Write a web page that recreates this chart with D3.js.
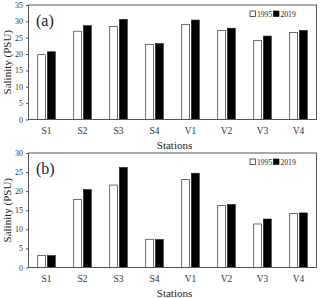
<!DOCTYPE html>
<html><head><meta charset="utf-8">
<script src="https://cdn.jsdelivr.net/npm/d3@7"></script>
<style>body{margin:0;background:#fff}svg{display:block}</style>
</head><body><svg id="c" width="320" height="298" font-family="'Liberation Serif', 'Times New Roman', serif"></svg>
<script>
const stations = ["S1","S2","S3","S4","V1","V2","V3","V4"];
const years = ["1995","2019"];
const panelA1995 = [19.8,27.0,28.4,23.0,29.1,27.2,24.2,26.6];
const panelA2019 = [20.7,28.7,30.6,23.2,30.4,27.9,25.5,27.2];
const panelB1995 = [3.1,17.8,21.6,7.4,23.1,16.2,11.4,14.1];
const panelB2019 = [3.1,20.4,26.2,7.3,24.7,16.5,12.7,14.3];
const panelATicks = [0,5,10,15,20,25,30,35];
const panelBTicks = [0,5,10,15,20,25,30];

const FONT = "'Liberation Serif', 'Times New Roman', serif";
const svg = d3.select("#c");
const colors = {"1995":"#fff","2019":"#000"};

function panel(label, v1, v2, ticks, ymax, top, bottom) {
  const left = 28.5, right = 316.5;
  const x = d3.scaleBand().domain(stations).range([left, right]);
  const xs = d3.scaleBand().domain(years).range([0, x.bandwidth()]).paddingInner(0.2).paddingOuter(0.95);
  const y = d3.scaleLinear().domain([0, ymax]).range([bottom, top]);
  const g = svg.append("g");
  const data = stations.map((s,i)=>({s, vals:[{k:"1995",v:v1[i]},{k:"2019",v:v2[i]}]}));
  const grp = g.selectAll("g.st").data(data).join("g").attr("transform", d=>`translate(${x(d.s)},0)`);
  grp.selectAll("rect").data(d=>d.vals).join("rect")
    .attr("x", d=>xs(d.k)).attr("width", xs.bandwidth())
    .attr("y", d=>y(d.v)).attr("height", d=>y(0)-y(d.v))
    .attr("fill", d=>colors[d.k]).attr("stroke","#111").attr("stroke-width",0.6);
  g.append("rect").attr("x",left).attr("y",top).attr("width",right-left).attr("height",bottom-top)
    .attr("fill","none").attr("stroke","#555").attr("stroke-width",1);
  const ya = d3.axisLeft(y).tickValues(ticks).tickSize(2.5).tickPadding(3);
  const yg = g.append("g").attr("transform",`translate(${left},0)`).call(ya).attr("font-family",FONT);
  yg.select(".domain").remove();
  yg.selectAll("line").attr("stroke","#555");
  yg.selectAll("text").attr("font-size","8px").attr("fill","#333");
  const xa = d3.axisBottom(x).tickSize(0).tickPadding(8);
  const xg = g.append("g").attr("transform",`translate(0,${bottom})`).call(xa).attr("font-family",FONT);
  xg.select(".domain").remove();
  xg.selectAll("text").attr("font-size","9.5px").attr("fill","#333");
  g.append("text").attr("x",(left+right)/2+2).attr("y",bottom+29).attr("text-anchor","middle")
    .attr("font-size","11px").attr("fill","#222").text("Stations");
  g.append("text").attr("transform",`translate(11,${(top+bottom)/2}) rotate(-90)`).attr("text-anchor","middle")
    .attr("font-size","11px").attr("fill","#222").text("Salinity (PSU)");
  g.append("text").attr("x",36).attr("y",top+21).attr("font-size","16px").attr("fill","#222").text(label);
  const lg = g.append("g").attr("transform",`translate(250,${top+10})`);
  const items = [{k:"1995",dx:0},{k:"2019",dx:23.5}];
  items.forEach(it=>{
    lg.append("rect").attr("x",it.dx).attr("y",-4).attr("width",5.5).attr("height",5.5)
      .attr("fill",colors[it.k]).attr("stroke","#111").attr("stroke-width",0.7);
    lg.append("text").attr("x",it.dx+7).attr("y",1.5).attr("font-size","7.6px").attr("fill","#222").text(it.k);
  });
}
panel("(a)", panelA1995, panelA2019, panelATicks, 35, 5, 119.5);
panel("(b)", panelB1995, panelB2019, panelBTicks, 30, 153, 267.5);
</script></body></html>
